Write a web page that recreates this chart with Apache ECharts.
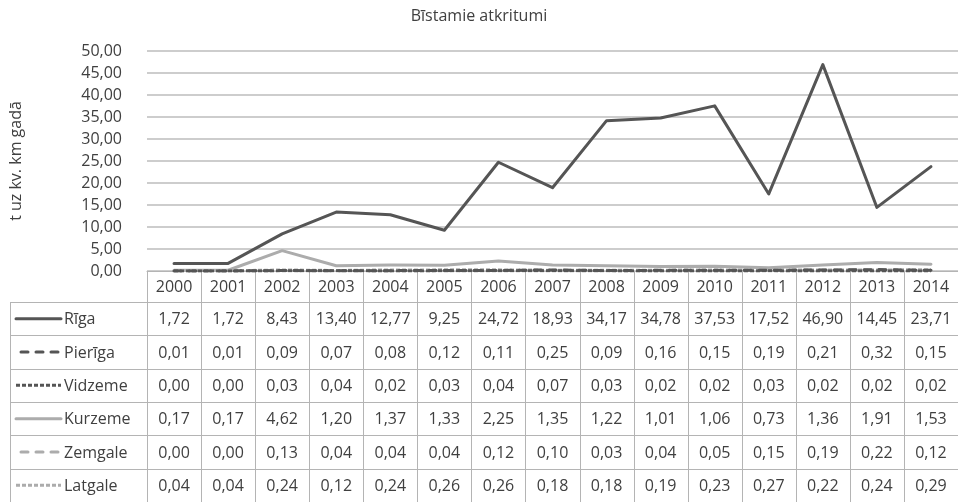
<!DOCTYPE html>
<html>
<head>
<meta charset="utf-8">
<script src="https://cdn.jsdelivr.net/npm/echarts@6/dist/echarts.min.js"></script>
<style>
  html, body { margin: 0; padding: 0; background: #ffffff; }
  #chart { width: 958px; height: 502px; }
</style>
</head>
<body>
<div id="chart"></div>
<script>
// Hazardous waste per square km by region, 2000–2014
const years = ['2000','2001','2002','2003','2004','2005','2006','2007','2008','2009','2010','2011','2012','2013','2014'];
const regions = ['Rīga','Pierīga','Vidzeme','Kurzeme','Zemgale','Latgale'];
const riga     = [1.72, 1.72, 8.43, 13.40, 12.77, 9.25, 24.72, 18.93, 34.17, 34.78, 37.53, 17.52, 46.90, 14.45, 23.71];
const pieriga  = [0.01, 0.01, 0.09, 0.07, 0.08, 0.12, 0.11, 0.25, 0.09, 0.16, 0.15, 0.19, 0.21, 0.32, 0.15];
const vidzeme  = [0.00, 0.00, 0.03, 0.04, 0.02, 0.03, 0.04, 0.07, 0.03, 0.02, 0.02, 0.03, 0.02, 0.02, 0.02];
const kurzeme  = [0.17, 0.17, 4.62, 1.20, 1.37, 1.33, 2.25, 1.35, 1.22, 1.01, 1.06, 0.73, 1.36, 1.91, 1.53];
const zemgale  = [0.00, 0.00, 0.13, 0.04, 0.04, 0.04, 0.12, 0.10, 0.03, 0.04, 0.05, 0.15, 0.19, 0.22, 0.12];
const latgale  = [0.04, 0.04, 0.24, 0.12, 0.24, 0.26, 0.26, 0.18, 0.18, 0.19, 0.23, 0.27, 0.22, 0.24, 0.29];
const seriesValues = [riga, pieriga, vidzeme, kurzeme, zemgale, latgale];

const FONT = '"Open Sans", "Noto Sans", sans-serif';
const TEXT = '#404040';
const DARK = '#555555';
const LIGHT = '#acacac';
const BORDER = '#b4b4b4';

// line look per region: colour, dash pattern and cap
const styles = [
  { color: DARK,  type: 'solid', cap: 'round' },
  { color: DARK,  type: [7, 8],  cap: 'round' },
  { color: DARK,  type: [4, 2],  cap: 'butt' },
  { color: LIGHT, type: 'solid', cap: 'round' },
  { color: LIGHT, type: [7, 8],  cap: 'round' },
  { color: LIGHT, type: [4, 2],  cap: 'butt' }
];

const fmt = v => v.toFixed(2).replace('.', ',');

const chart = echarts.init(document.getElementById('chart'), null, { renderer: 'canvas' });

const gridTop = 51, gridBottomY = 271;
const drawOrder = [5, 4, 3, 2, 1, 0];

chart.setOption({
  animation: false,
  title: {
    text: 'Bīstamie atkritumi',
    left: 'center',
    top: 3,
    textStyle: { fontFamily: FONT, fontSize: 16, fontWeight: 'normal', color: TEXT }
  },
  grid: { left: 147, right: 0, top: gridTop, bottom: 502 - gridBottomY, containLabel: false },
  xAxis: {
    type: 'category',
    data: years,
    boundaryGap: true,
    axisLine: { show: true, lineStyle: { color: BORDER, width: 1 } },
    axisTick: { show: false },
    axisLabel: { show: false }
  },
  yAxis: {
    type: 'value',
    min: 0, max: 50, interval: 5,
    name: 't uz kv. km gadā',
    nameLocation: 'middle',
    nameRotate: 90,
    nameGap: 123,
    nameTextStyle: { fontFamily: FONT, fontSize: 16, color: TEXT },
    axisLine: { show: false },
    axisTick: { show: false },
    axisLabel: { formatter: v => fmt(v), margin: 25, fontFamily: FONT, fontSize: 16, color: TEXT },
    splitLine: { lineStyle: { color: '#bdbdbd', width: 1.5 } }
  },
  series: drawOrder.map(i => ({
    name: regions[i],
    type: 'line',
    data: seriesValues[i],
    showSymbol: false,
    symbol: 'none',
    z: 10 - i,
    lineStyle: { color: styles[i].color, width: 3, type: styles[i].type, cap: styles[i].cap, join: 'round' }
  }))
});

// data table under the plot, aligned to the category axis
const x0 = chart.convertToPixel({ xAxisIndex: 0 }, 0);
const x1 = chart.convertToPixel({ xAxisIndex: 0 }, 1);
const step = x1 - x0;
const tableLeft = 10;
const headerTop = gridBottomY;
const headerH = 31;
const rowH = (502 - headerTop - headerH) / regions.length;
const colLeft = i => x0 - step / 2 + i * step;
const tableRight = colLeft(years.length);
const bottomY = headerTop + headerH + rowH * regions.length;
const cellFont = '16px ' + FONT;

const g = [];
const lineSty = { stroke: BORDER, lineWidth: 1 };
// vertical borders
for (let i = 0; i <= years.length; i++) {
  const x = Math.round(colLeft(i)) + 0.5;
  g.push({ type: 'line', shape: { x1: x, y1: headerTop, x2: x, y2: bottomY }, style: lineSty, silent: true });
}
g.push({ type: 'line', shape: { x1: tableLeft + 0.5, y1: headerTop + headerH, x2: tableLeft + 0.5, y2: bottomY }, style: lineSty, silent: true });
// horizontal borders
for (let r = 0; r <= regions.length; r++) {
  const y = Math.round(headerTop + headerH + r * rowH) + 0.5;
  g.push({ type: 'line', shape: { x1: tableLeft, y1: y, x2: tableRight, y2: y }, style: lineSty, silent: true });
}
// header years
years.forEach((yr, i) => {
  g.push({
    type: 'text', silent: true,
    style: { x: chart.convertToPixel({ xAxisIndex: 0 }, i), y: headerTop + headerH / 2 + 1, text: yr,
      align: 'center', verticalAlign: 'middle', font: cellFont, fill: TEXT }
  });
});
// rows: legend key, name and values
regions.forEach((name, r) => {
  const cy = headerTop + headerH + r * rowH + rowH / 2;
  const s = styles[r];
  g.push({
    type: 'line', silent: true,
    shape: { x1: 16, y1: cy, x2: 61, y2: cy },
    style: { stroke: s.color, lineWidth: 3, lineDash: Array.isArray(s.type) ? s.type : null,
      lineDashOffset: Array.isArray(s.type) && s.cap === 'round' ? 10 : 0, lineCap: s.cap }
  });
  g.push({
    type: 'text', silent: true,
    style: { x: 64, y: cy + 1, text: name, align: 'left', verticalAlign: 'middle', font: cellFont, fill: TEXT }
  });
  seriesValues[r].forEach((v, i) => {
    g.push({
      type: 'text', silent: true,
      style: { x: chart.convertToPixel({ xAxisIndex: 0 }, i), y: cy + 1, text: fmt(v),
        align: 'center', verticalAlign: 'middle', font: cellFont, fill: TEXT }
    });
  });
});

chart.setOption({ graphic: { elements: g } });
</script>
</body>
</html>
